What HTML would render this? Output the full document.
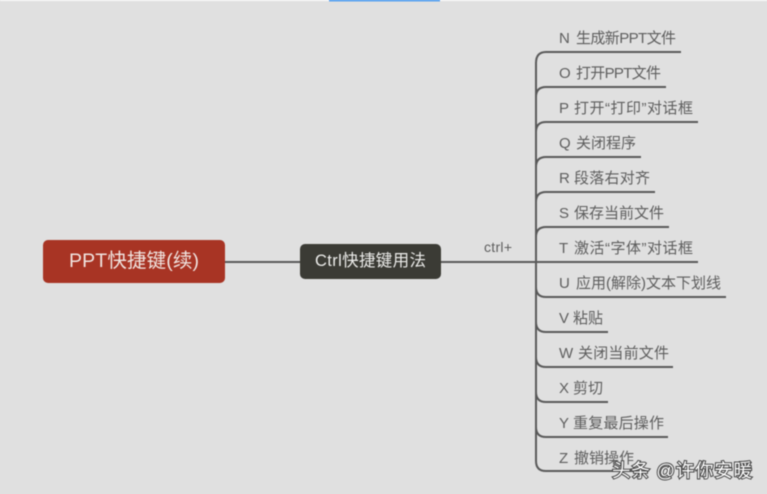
<!DOCTYPE html>
<html><head><meta charset="utf-8"><style>
html,body{margin:0;padding:0;background:#e0e0e0}
svg{display:block;filter:blur(.4px)}
text{font-family:"Liberation Sans","Noto Sans CJK SC",sans-serif;fill:#5e5e5e;font-size:15px}
</style></head><body>
<svg width="767" height="494" viewBox="0 0 767 494" xmlns="http://www.w3.org/2000/svg">
<rect width="767" height="494" fill="#e0e0e0"/>
<rect x="0" y="0" width="767" height="1" fill="#fff"/>
<rect x="329" y="0" width="111" height="1.3" fill="#2f8ff5"/>
<g fill="none" stroke="#5a5a5a" stroke-width="2">
<path d="M225 262H300M441 262H536"/>
<path d="M536 63V461"/>
<path d="M681 52H546Q536 52 536 63"/>
<path d="M666 87H546Q536 87 536 97"/>
<path d="M698 122H546Q536 122 536 132"/>
<path d="M641 157H546Q536 157 536 167"/>
<path d="M655 192H546Q536 192 536 202"/>
<path d="M669 227H546Q536 227 536 237"/>
<path d="M698 262H536"/>
<path d="M726 297H546Q536 297 536 287"/>
<path d="M608 332H546Q536 332 536 322"/>
<path d="M673 367H546Q536 367 536 357"/>
<path d="M608 402H546Q536 402 536 392"/>
<path d="M668 437H546Q536 437 536 427"/>
<path d="M635 471H546Q536 471 536 461"/>
</g>
<rect x="43" y="240" width="182" height="43" rx="5" fill="#a83424"/>
<text x="69" y="267" textLength="130" style="font-size:19.500px;fill:#f0e4e0">PPT快捷键(续)</text>
<rect x="300" y="244" width="141" height="35" rx="5" fill="#3b3b35"/>
<text x="315" y="266" textLength="111" style="font-size:16.500px;fill:#ececea">Ctrl快捷键用法</text>
<text x="484" y="252" textLength="28" style="font-size:14px">ctrl+</text>
<text x="559" y="43">N</text><text x="576" y="43" textLength="100">生成新PPT文件</text>
<text x="559" y="78">O</text><text x="576" y="78" textLength="85">打开PPT文件</text>
<text x="559" y="113">P</text><text x="574" y="113" textLength="119">打开“打印”对话框</text>
<text x="559" y="148">Q</text><text x="576" y="148" textLength="60">关闭程序</text>
<text x="559" y="183">R</text><text x="574" y="183" textLength="76">段落右对齐</text>
<text x="559" y="218">S</text><text x="574" y="218" textLength="90">保存当前文件</text>
<text x="559" y="253">T</text><text x="574" y="253" textLength="119">激活“字体”对话框</text>
<text x="559" y="288">U</text><text x="576" y="288" textLength="145">应用(解除)文本下划线</text>
<text x="559" y="323">V</text><text x="573" y="323" textLength="30">粘贴</text>
<text x="559" y="358">W</text><text x="578" y="358" textLength="91">关闭当前文件</text>
<text x="559" y="393">X</text><text x="573" y="393" textLength="30">剪切</text>
<text x="559" y="428">Y</text><text x="573" y="428" textLength="91">重复最后操作</text>
<text x="559" y="463">Z</text><text x="574" y="463" textLength="60">撤销操作</text>
<text x="612" y="477" textLength="140" style="font-size:18.500px;fill:#fff;stroke:#444;stroke-width:2px;paint-order:stroke">头条 @许你安暖</text>
</svg>
</body></html>
